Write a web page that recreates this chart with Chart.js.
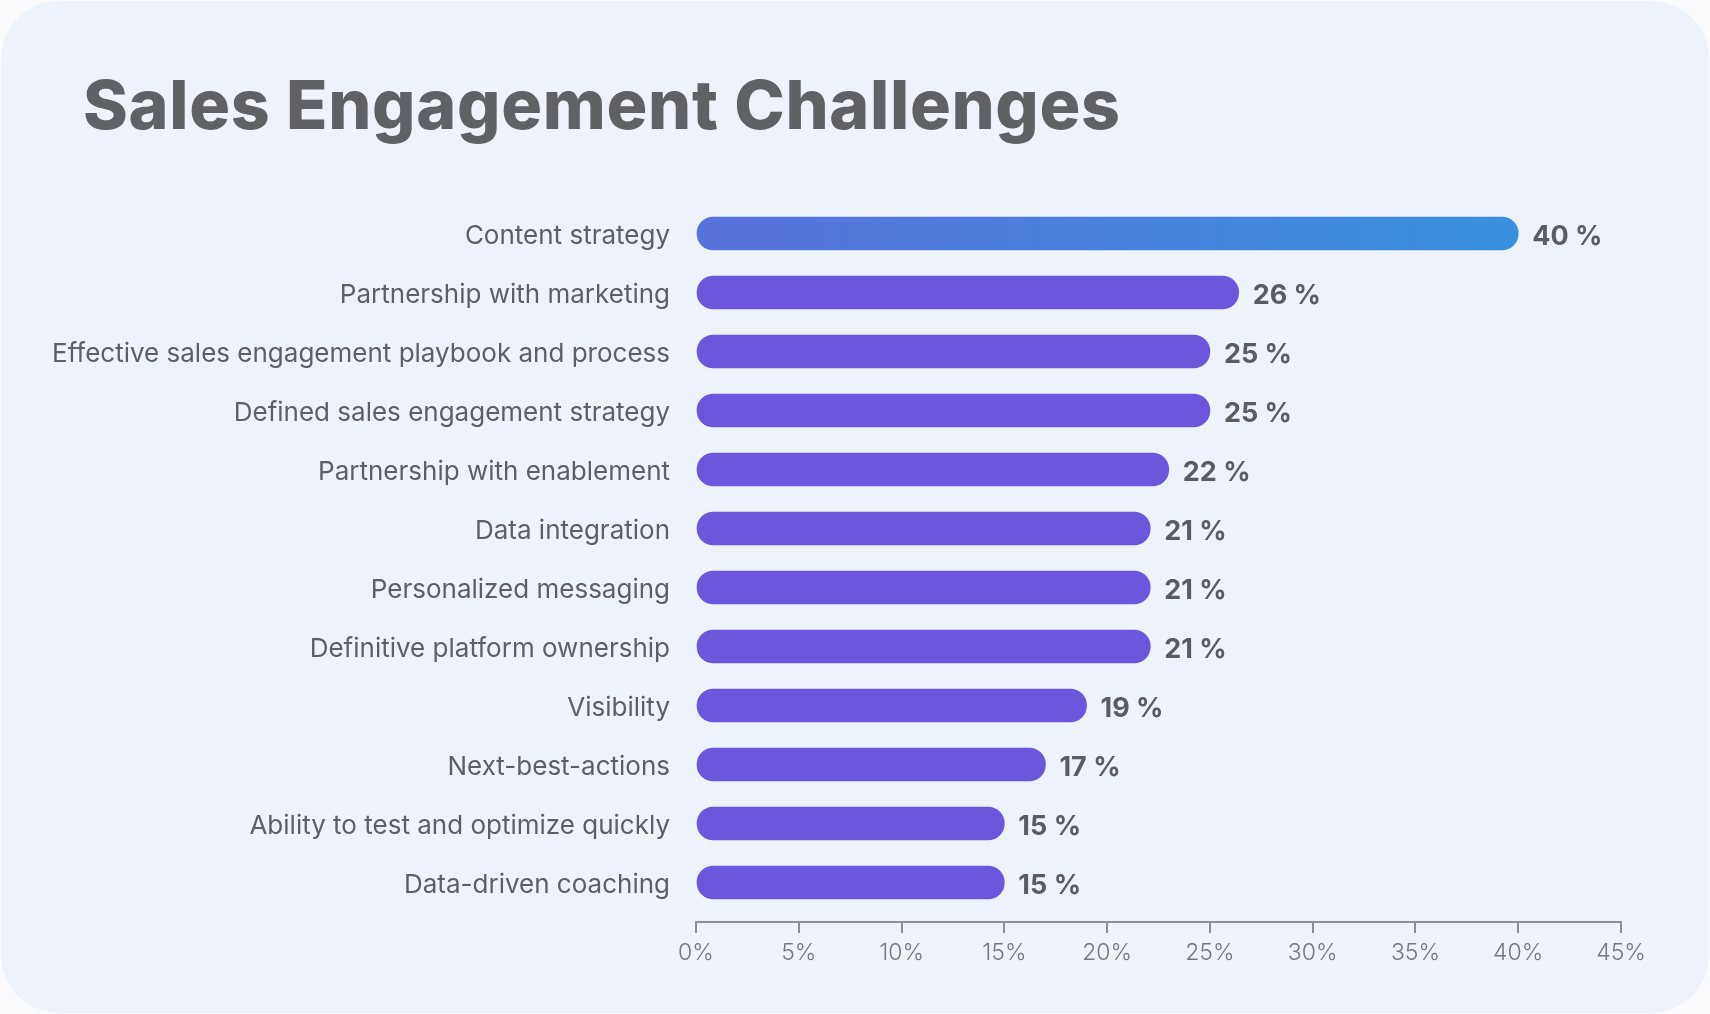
<!DOCTYPE html>
<html>
<head>
<meta charset="utf-8">
<title>Sales Engagement Challenges</title>
<script src="https://cdn.jsdelivr.net/npm/chart.js@4.4.1/dist/chart.umd.min.js"></script>
<style>
  html, body { margin: 0; padding: 0; background: #fbfbfd; }
  body { width: 1710px; height: 1014px; position: relative; overflow: hidden; }
  .card {
    position: absolute; left: 1px; top: 1px; width: 1708px; height: 1012px;
    background: #eef2fb; border-radius: 58px;
  }
  h1 {
    position: absolute; left: 83px; top: 70px; margin: 0;
    font: 800 68px/1 Inter, "Open Sans", sans-serif; color: #606165;
    letter-spacing: 0.7px;
    white-space: nowrap;
  }
  canvas { position: absolute; left: 0; top: 0; }
</style>
</head>
<body>
<div class="card"></div>
<h1>Sales Engagement Challenges</h1>
<canvas id="challengesChart" width="1710" height="1014"></canvas>

<script>
const categories = [
  'Content strategy',
  'Partnership with marketing',
  'Effective sales engagement playbook and process',
  'Defined sales engagement strategy',
  'Partnership with enablement',
  'Data integration',
  'Personalized messaging',
  'Definitive platform ownership',
  'Visibility',
  'Next-best-actions',
  'Ability to test and optimize quickly',
  'Data-driven coaching'
];
// percentages printed next to each bar
const printedValues = [40, 26, 25, 25, 22, 21, 21, 21, 19, 17, 15, 15];
// bar lengths as drawn in the picture (a few bars run a bit past their label)
const barValues = [40, 26.4, 25, 25, 23, 22.1, 22.1, 22.1, 19, 17, 15, 15];
const xMin = 0;
const xMax = 45;
const xStep = 5;

const barColor = '#6c57dc';

// first bar gets the blue gradient
function corBarra(context) {
    if (context.dataIndex !== 0) return barColor;
    const chart = context.chart;
    const area = chart.chartArea;
    if (!area) return barColor;
    const x = chart.scales.x;
    const g = chart.ctx.createLinearGradient(x.getPixelForValue(0), 0, x.getPixelForValue(barValues[0]), 0);
    g.addColorStop(0, '#5872dc');
    g.addColorStop(1, '#3990dc');
    return g;
}

const rotulosValores = {
    id: 'rotulosValores',
    afterDatasetsDraw(chart) {
        const ctx = chart.ctx;
        const meta = chart.getDatasetMeta(0);
        ctx.save();
        ctx.font = '700 27px Inter, "Open Sans", sans-serif';
        ctx.fillStyle = '#5b5c5f';
        ctx.textBaseline = 'middle';
        meta.data.forEach((bar, i) => {
            ctx.fillText(printedValues[i] + ' %', bar.x + 14, bar.y + 3);
        });
        ctx.restore();
    }
};

document.addEventListener("DOMContentLoaded", function() {
    const ctx = document.getElementById('challengesChart').getContext('2d');
    new Chart(ctx, {
        type: 'bar',
        data: {
            labels: categories,
            datasets: [{
                data: barValues,
                xAxisID: 'x',
                yAxisID: 'y',
                backgroundColor: corBarra,
                borderRadius: 17,
                borderSkipped: false,
                barThickness: 33
            }]
        },
        plugins: [rotulosValores],
        options: {
            indexAxis: 'y',
            responsive: false,
            animation: false,
            layout: {
                padding: { left: 0, right: 89, top: 204, bottom: 42 }
            },
            plugins: {
                legend: { display: false },
                tooltip: { enabled: false }
            },
            scales: {
                y: {
                    grid: { display: false },
                    border: { display: false },
                    ticks: {
                        padding: 18,
                        labelOffset: 3,
                        color: '#5e5f62',
                        font: { family: 'Inter', size: 26, weight: '400' }
                    },
                    afterFit(s) { s.width = 696; }
                },
                x: {
                    position: 'bottom',
                    weight: 1,
                    min: xMin,
                    max: xMax,
                    grid: {
                        drawOnChartArea: false,
                        drawTicks: true,
                        tickLength: 11,
                        color: '#8d8e92',
                        lineWidth: 2
                    },
                    border: { display: true, color: '#8d8e92', width: 2 },
                    ticks: {
                        stepSize: xStep,
                        padding: 6,
                        color: '#77787c',
                        font: { family: 'Inter', size: 23, weight: '300' },
                        callback: v => v + '%'
                    },
                    afterFit(s) { s.height = 50; }
                },
                // empty spacer so the x axis line sits a little below the last bar
                gap: {
                    type: 'linear',
                    position: 'bottom',
                    weight: 0,
                    grid: { display: false },
                    border: { display: false },
                    ticks: { display: false },
                    afterFit(s) { s.height = 10; }
                }
            }
        }
    });
});
</script>
</body>
</html>
